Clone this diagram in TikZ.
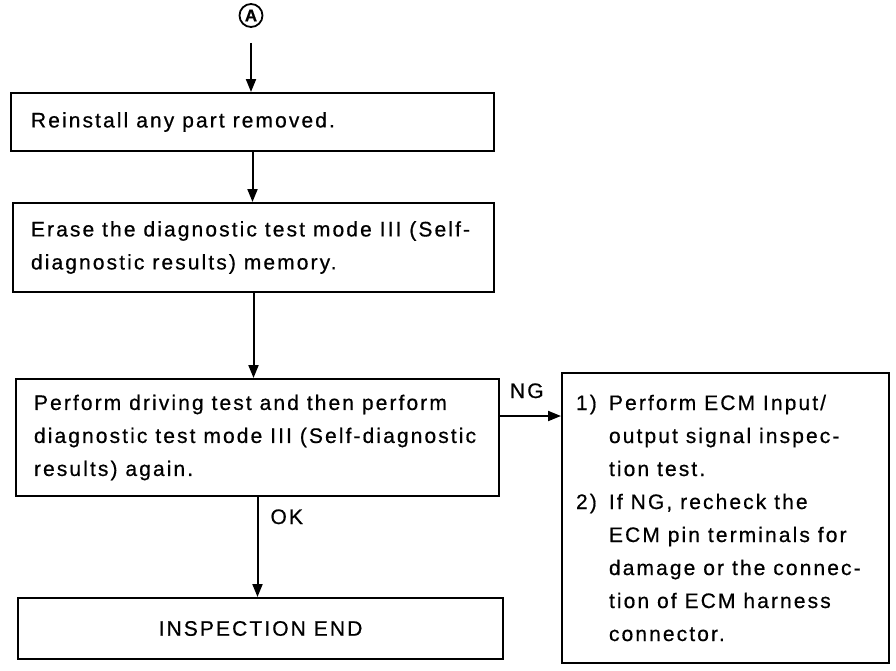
\documentclass[tikz,border=0pt]{standalone}
\usepackage{fontspec}
\setmainfont{Liberation Sans}[LetterSpace=10,FakeBold=0.6]
\usetikzlibrary{arrows.meta,calc}
\begin{document}
\begin{tikzpicture}[x=1pt,y=-1pt,line width=2pt,
  font=\fontsize{21}{33}\selectfont,
  box/.style={draw,rectangle,line width=2pt,inner sep=0pt,anchor=north west},
  txt/.style={align=left,inner sep=0pt,anchor=west},
  lbl/.style={inner sep=0pt,anchor=base west},
  arr/.style={-{Triangle[length=13pt,width=10pt]},line width=2pt}]
\useasboundingbox (0,0) rectangle (896,670);
% circled A
\node[draw,circle,line width=1.8pt,minimum size=23pt,inner sep=0pt,
  font=\fontsize{17}{17}\bfseries] (A) at (251,15.5) {A};
% boxes
\node[box,minimum width=483pt,minimum height=58pt] (b1) at (10,92) {};
\node[box,minimum width=481pt,minimum height=89pt] (b2) at (12,202) {};
\node[box,minimum width=483pt,minimum height=117pt] (b3) at (15,378) {};
\node[box,minimum width=485pt,minimum height=61pt] (b4) at (17,597) {INSPECTION END};
\node[box,minimum width=327pt,minimum height=290pt] (r) at (561,372) {};
% texts
\node[txt] (t1) at ([xshift=20pt]b1.west) {Reinstall any part removed.};
\node[txt] (t2) at ([xshift=18pt]b2.west) {Erase the diagnostic test mode III (Self-\\diagnostic results) memory.};
\node[txt] (t3) at ([xshift=18pt]b3.west) {Perform driving test and then perform\\diagnostic test mode III (Self-diagnostic\\results) again.};
\node[txt] (t4) at ([xshift=14pt]r.west) {\makebox[33pt][l]{1)}Perform ECM Input/\\
\hspace*{33pt}output signal inspec-\\
\hspace*{33pt}tion test.\\
\makebox[33pt][l]{2)}If NG, recheck the\\
\hspace*{33pt}ECM pin terminals for\\
\hspace*{33pt}damage or the connec-\\
\hspace*{33pt}tion of ECM harness\\
\hspace*{33pt}connector.};
% connectors
\draw[arr] ([yshift=-15pt]A.south) -- (A.south |- b1.north);
\draw[arr] (b1.south) -- (b1.south |- b2.north);
\draw[arr] (b2.south) -- (b2.south |- b3.north);
\draw[arr] (b3.south) -- (b3.south |- b4.north);
\draw[arr] ([yshift=21.5pt]b3.east) coordinate (ng) -- (ng -| r.west);
% labels
\node[lbl] (ngl) at ([xshift=9pt,yshift=18pt]ng) {NG};
\node[lbl] (okl) at ([xshift=12pt,yshift=-27pt]b3.south) {OK};
\end{tikzpicture}
\end{document}
